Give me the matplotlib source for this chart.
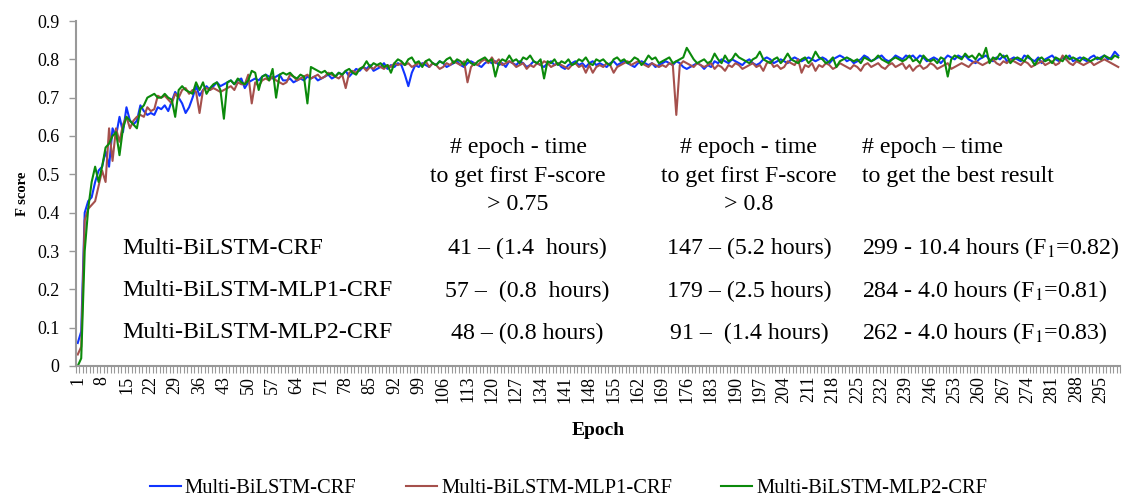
import numpy as np
import matplotlib
matplotlib.use("Agg")
import matplotlib.pyplot as plt

plt.rcParams['font.family'] = ['Liberation Serif', 'DejaVu Serif']
plt.rcParams['mathtext.fontset'] = 'stix'

# F score per epoch
crf = [
    0.06, 0.09, 0.40, 0.43, 0.44, 0.48, 0.51, 0.52, 0.56, 0.52,
    0.62, 0.60, 0.65, 0.61, 0.675, 0.64, 0.63, 0.64, 0.68, 0.665,
    0.655, 0.66, 0.655, 0.675, 0.67, 0.68, 0.665, 0.69, 0.715, 0.70,
    0.685, 0.66, 0.675, 0.70, 0.73, 0.705, 0.72, 0.73, 0.72, 0.73,
    0.74, 0.73, 0.735, 0.74, 0.745, 0.735, 0.745, 0.75, 0.725, 0.74,
    0.745, 0.75, 0.745, 0.755, 0.76, 0.755, 0.75, 0.755, 0.76, 0.745,
    0.745, 0.75, 0.74, 0.745, 0.75, 0.745, 0.755, 0.75, 0.755, 0.745,
    0.75, 0.755, 0.76, 0.75, 0.755, 0.765, 0.76, 0.77, 0.755, 0.765,
    0.775, 0.77, 0.78, 0.775, 0.785, 0.77, 0.775, 0.78, 0.79, 0.775,
    0.785, 0.78, 0.79, 0.785, 0.76, 0.73, 0.765, 0.785, 0.78, 0.79,
    0.785, 0.78, 0.79, 0.785, 0.795, 0.79, 0.78, 0.785, 0.79, 0.795,
    0.785, 0.78, 0.79, 0.795, 0.79, 0.785, 0.78, 0.79, 0.795, 0.79,
    0.795, 0.785, 0.79, 0.78, 0.795, 0.79, 0.785, 0.795, 0.79, 0.78,
    0.785, 0.795, 0.79, 0.785, 0.78, 0.79, 0.795, 0.785, 0.79, 0.78,
    0.775, 0.785, 0.79, 0.795, 0.785, 0.79, 0.78, 0.79, 0.795, 0.785,
    0.79, 0.785, 0.78, 0.79, 0.795, 0.785, 0.79, 0.795, 0.79, 0.785,
    0.78, 0.79, 0.795, 0.79, 0.785, 0.79, 0.78, 0.785, 0.79, 0.795,
    0.79, 0.785, 0.795, 0.79, 0.78, 0.775, 0.78, 0.785, 0.79, 0.785,
    0.775, 0.785, 0.78, 0.795, 0.79, 0.80, 0.795, 0.79, 0.80, 0.795,
    0.79, 0.785, 0.795, 0.80, 0.79, 0.785, 0.79, 0.80, 0.805, 0.80,
    0.79, 0.795, 0.80, 0.795, 0.79, 0.80, 0.805, 0.80, 0.795, 0.80,
    0.805, 0.80, 0.795, 0.80, 0.805, 0.80, 0.79, 0.80, 0.805, 0.81,
    0.805, 0.795, 0.80, 0.79, 0.795, 0.80, 0.81, 0.805, 0.795, 0.80,
    0.805, 0.81, 0.80, 0.795, 0.80, 0.81, 0.805, 0.80, 0.81, 0.805,
    0.81, 0.80, 0.81, 0.805, 0.795, 0.80, 0.805, 0.80, 0.79, 0.80,
    0.81, 0.805, 0.80, 0.81, 0.805, 0.81, 0.80, 0.795, 0.79, 0.80,
    0.805, 0.81, 0.80, 0.795, 0.805, 0.80, 0.81, 0.795, 0.80, 0.805,
    0.80, 0.795, 0.81, 0.805, 0.80, 0.795, 0.805, 0.79, 0.80, 0.805,
    0.81, 0.80, 0.795, 0.805, 0.80, 0.81, 0.795, 0.80, 0.805, 0.80,
    0.795, 0.805, 0.81, 0.80, 0.805, 0.81, 0.80, 0.805, 0.82, 0.81,
]

mlp1 = [
    0.03, 0.05, 0.38, 0.41, 0.42, 0.43, 0.47, 0.51, 0.48, 0.62,
    0.535, 0.62, 0.585, 0.63, 0.65, 0.62, 0.64, 0.65, 0.655, 0.65,
    0.675, 0.665, 0.67, 0.705, 0.70, 0.705, 0.695, 0.685, 0.71, 0.70,
    0.72, 0.725, 0.71, 0.72, 0.715, 0.66, 0.72, 0.725, 0.72, 0.725,
    0.72, 0.715, 0.72, 0.725, 0.73, 0.72, 0.74, 0.735, 0.735, 0.76,
    0.685, 0.74, 0.73, 0.745, 0.75, 0.745, 0.755, 0.745, 0.74, 0.735,
    0.74, 0.76, 0.755, 0.745, 0.75, 0.755, 0.76, 0.75, 0.755, 0.76,
    0.75, 0.755, 0.765, 0.76, 0.755, 0.75, 0.76, 0.725, 0.765, 0.77,
    0.765, 0.775, 0.78, 0.77, 0.78, 0.775, 0.785, 0.78, 0.775, 0.785,
    0.78, 0.79, 0.785, 0.79, 0.785, 0.79, 0.78, 0.785, 0.79, 0.785,
    0.795, 0.78, 0.79, 0.785, 0.775, 0.78, 0.79, 0.785, 0.795, 0.79,
    0.785, 0.795, 0.74, 0.78, 0.79, 0.785, 0.795, 0.80, 0.79, 0.805,
    0.79, 0.80, 0.785, 0.79, 0.795, 0.79, 0.78, 0.785, 0.79, 0.775,
    0.785, 0.78, 0.79, 0.785, 0.795, 0.79, 0.78, 0.785, 0.79, 0.785,
    0.78, 0.775, 0.785, 0.79, 0.78, 0.785, 0.765, 0.785, 0.765, 0.78,
    0.785, 0.78, 0.79, 0.785, 0.765, 0.78, 0.785, 0.79, 0.795, 0.785,
    0.79, 0.795, 0.79, 0.785, 0.78, 0.79, 0.785, 0.78, 0.785, 0.78,
    0.79, 0.785, 0.655, 0.785, 0.795, 0.79, 0.785, 0.78, 0.79, 0.785,
    0.78, 0.785, 0.79, 0.775, 0.785, 0.78, 0.77, 0.785, 0.78, 0.79,
    0.785, 0.775, 0.78, 0.785, 0.79, 0.78, 0.785, 0.77, 0.79, 0.795,
    0.78, 0.785, 0.775, 0.78, 0.795, 0.79, 0.785, 0.80, 0.765, 0.785,
    0.78, 0.79, 0.77, 0.785, 0.78, 0.79, 0.785, 0.775, 0.78, 0.79,
    0.785, 0.78, 0.775, 0.785, 0.78, 0.77, 0.785, 0.79, 0.78, 0.785,
    0.79, 0.78, 0.775, 0.785, 0.79, 0.78, 0.785, 0.79, 0.775, 0.785,
    0.77, 0.78, 0.785, 0.775, 0.78, 0.79, 0.785, 0.775, 0.78, 0.785,
    0.79, 0.775, 0.78, 0.785, 0.79, 0.785, 0.78, 0.79, 0.795, 0.79,
    0.785, 0.79, 0.795, 0.80, 0.79, 0.785, 0.795, 0.79, 0.80, 0.795,
    0.79, 0.785, 0.795, 0.79, 0.78, 0.785, 0.79, 0.795, 0.785, 0.79,
    0.795, 0.785, 0.79, 0.81, 0.80, 0.79, 0.785, 0.795, 0.79, 0.785,
    0.79, 0.795, 0.785, 0.79, 0.795, 0.80, 0.795, 0.79, 0.785, 0.78,
]

mlp2 = [
    0.00, 0.02, 0.30, 0.41, 0.48, 0.52, 0.48, 0.52, 0.57, 0.58,
    0.60, 0.61, 0.55, 0.62, 0.65, 0.64, 0.63, 0.62, 0.67, 0.68,
    0.70, 0.705, 0.71, 0.70, 0.70, 0.71, 0.70, 0.695, 0.65, 0.72,
    0.73, 0.72, 0.715, 0.71, 0.74, 0.72, 0.74, 0.71, 0.725, 0.735,
    0.74, 0.72, 0.645, 0.74, 0.745, 0.735, 0.75, 0.74, 0.735, 0.745,
    0.77, 0.765, 0.72, 0.755, 0.76, 0.745, 0.775, 0.70, 0.76, 0.765,
    0.76, 0.765, 0.755, 0.75, 0.76, 0.755, 0.685, 0.78, 0.775, 0.77,
    0.765, 0.77, 0.76, 0.765, 0.755, 0.765, 0.76, 0.77, 0.775, 0.765,
    0.76, 0.775, 0.78, 0.795, 0.78, 0.79, 0.785, 0.79, 0.78, 0.785,
    0.765, 0.79, 0.80, 0.795, 0.785, 0.80, 0.805, 0.79, 0.795, 0.78,
    0.795, 0.80, 0.79, 0.785, 0.795, 0.79, 0.80, 0.805, 0.79, 0.80,
    0.795, 0.785, 0.80, 0.79, 0.785, 0.795, 0.80, 0.805, 0.795, 0.80,
    0.755, 0.79, 0.80, 0.795, 0.81, 0.795, 0.80, 0.79, 0.805, 0.80,
    0.81, 0.795, 0.79, 0.80, 0.75, 0.795, 0.79, 0.80, 0.785, 0.795,
    0.79, 0.80, 0.785, 0.79, 0.80, 0.795, 0.805, 0.79, 0.785, 0.80,
    0.795, 0.80, 0.79, 0.785, 0.80, 0.805, 0.795, 0.80, 0.79, 0.795,
    0.805, 0.80, 0.785, 0.795, 0.81, 0.80, 0.805, 0.79, 0.795, 0.80,
    0.805, 0.79, 0.795, 0.80, 0.805, 0.83, 0.815, 0.80, 0.79, 0.795,
    0.80, 0.79, 0.795, 0.815, 0.80, 0.79, 0.81, 0.795, 0.80, 0.815,
    0.805, 0.80, 0.795, 0.79, 0.80, 0.805, 0.82, 0.80, 0.795, 0.79,
    0.80, 0.805, 0.79, 0.80, 0.815, 0.80, 0.795, 0.79, 0.80, 0.805,
    0.79, 0.80, 0.82, 0.805, 0.80, 0.79, 0.795, 0.805, 0.78, 0.795,
    0.80, 0.805, 0.80, 0.795, 0.80, 0.79, 0.805, 0.80, 0.795, 0.80,
    0.81, 0.80, 0.795, 0.79, 0.80, 0.805, 0.80, 0.795, 0.80, 0.81,
    0.795, 0.80, 0.79, 0.81, 0.80, 0.795, 0.80, 0.79, 0.805, 0.80,
    0.755, 0.80, 0.81, 0.805, 0.80, 0.815, 0.805, 0.81, 0.80, 0.815,
    0.805, 0.83, 0.79, 0.805, 0.80, 0.815, 0.805, 0.81, 0.79, 0.80,
    0.805, 0.80, 0.795, 0.81, 0.80, 0.785, 0.80, 0.805, 0.795, 0.80,
    0.79, 0.805, 0.80, 0.795, 0.81, 0.80, 0.805, 0.80, 0.795, 0.805,
    0.80, 0.795, 0.80, 0.805, 0.80, 0.81, 0.805, 0.80, 0.81, 0.805,
]

series_names = ['Multi-BiLSTM-CRF', 'Multi-BiLSTM-MLP1-CRF', 'Multi-BiLSTM-MLP2-CRF']
colors = ['#1034FF', '#A5504C', '#0B8A0B']

# table text drawn inside the plot
header_075 = ['# epoch - time', 'to get first F-score', '> 0.75']
header_08 = ['# epoch - time', 'to get first F-score', '> 0.8']
header_best = ['# epoch \u2013 time', 'to get the best result']
col_075 = ['41 \u2013 (1.4  hours)', '57 \u2013  (0.8  hours)', '48 \u2013 (0.8 hours)']
col_08 = ['147 \u2013 (5.2 hours)', '179 \u2013 (2.5 hours)', '91 \u2013  (1.4 hours)']
col_best = ['299 - 10.4 hours (F$_1$=0.82)', '284 - 4.0 hours (F$_1$=0.81)',
            '262 - 4.0 hours (F$_1$=0.83)']

epochs = np.arange(1, len(crf) + 1)

fig = plt.figure(figsize=(11.26, 4.97), dpi=100)
W, H = 1126, 497
ax = fig.add_axes([76 / W, 1 - 366 / H, (1120 - 76) / W, (366 - 21) / H])

for vals, name, c in zip([crf, mlp1, mlp2], series_names, colors):
    ax.plot(epochs, vals, color=c, lw=1.5, label=name)

ax.set_xlim(0.5, len(epochs) + 0.5)
ax.set_ylim(0, 0.9)
ax.set_yticks(np.arange(0, 0.91, 0.1))
ax.set_yticklabels(['0'] + ['%.1f' % v for v in np.arange(0.1, 0.91, 0.1)], fontsize=13)

ax.set_xticks(np.arange(1, len(epochs) + 1, 7))
ax.set_xticklabels([str(e) for e in range(1, len(epochs) + 1, 7)], rotation=90, fontsize=13)
ax.set_xticks(np.arange(0.5, len(epochs) + 1, 1), minor=True)
ax.tick_params(axis='x', which='major', length=0, pad=7)
ax.tick_params(axis='x', which='minor', length=5, color='#999999', width=0.8)
ax.tick_params(axis='y', length=5, color='#999999', width=1, pad=7)

for s in ['top', 'right']:
    ax.spines[s].set_visible(False)
for s in ['left', 'bottom']:
    ax.spines[s].set_color('#999999')
    ax.spines[s].set_linewidth(1.5)

ax.set_xlabel('Epoch', fontsize=14, fontweight='bold', labelpad=14)
ax.set_ylabel('F score', fontsize=10.5, fontweight='bold', labelpad=6)

fs = 17.2


def px(x, y):
    return ((x - 76) / (1120 - 76), (366 - y) / (366 - 21))


for i, line in enumerate(header_075):
    ax.text(*px(518, 148 + 28.5 * i), line, transform=ax.transAxes, ha='center', va='center', fontsize=fs)
for i, line in enumerate(header_08):
    ax.text(*px(749, 148 + 28.5 * i), line, transform=ax.transAxes, ha='center', va='center', fontsize=fs)
for i, line in enumerate(header_best):
    ax.text(*px(862, 148 + 28.5 * i), line, transform=ax.transAxes, ha='left', va='center', fontsize=fs)

row_y = [248, 291, 333]
for i, y in enumerate(row_y):
    ax.text(*px(122, y), series_names[i], transform=ax.transAxes, ha='left', va='center', fontsize=fs)
    ax.text(*px(527, y), col_075[i], transform=ax.transAxes, ha='center', va='center', fontsize=fs)
    ax.text(*px(749, y), col_08[i], transform=ax.transAxes, ha='center', va='center', fontsize=fs)
    ax.text(*px(862, y), col_best[i], transform=ax.transAxes, ha='left', va='center', fontsize=fs)

fig.legend(loc='center', bbox_to_anchor=(0.505, 0.018), ncol=3, frameon=False,
           fontsize=14.8, handlelength=1.5, handletextpad=0.2, columnspacing=2.4)

fig.savefig('out.png', dpi=100)
